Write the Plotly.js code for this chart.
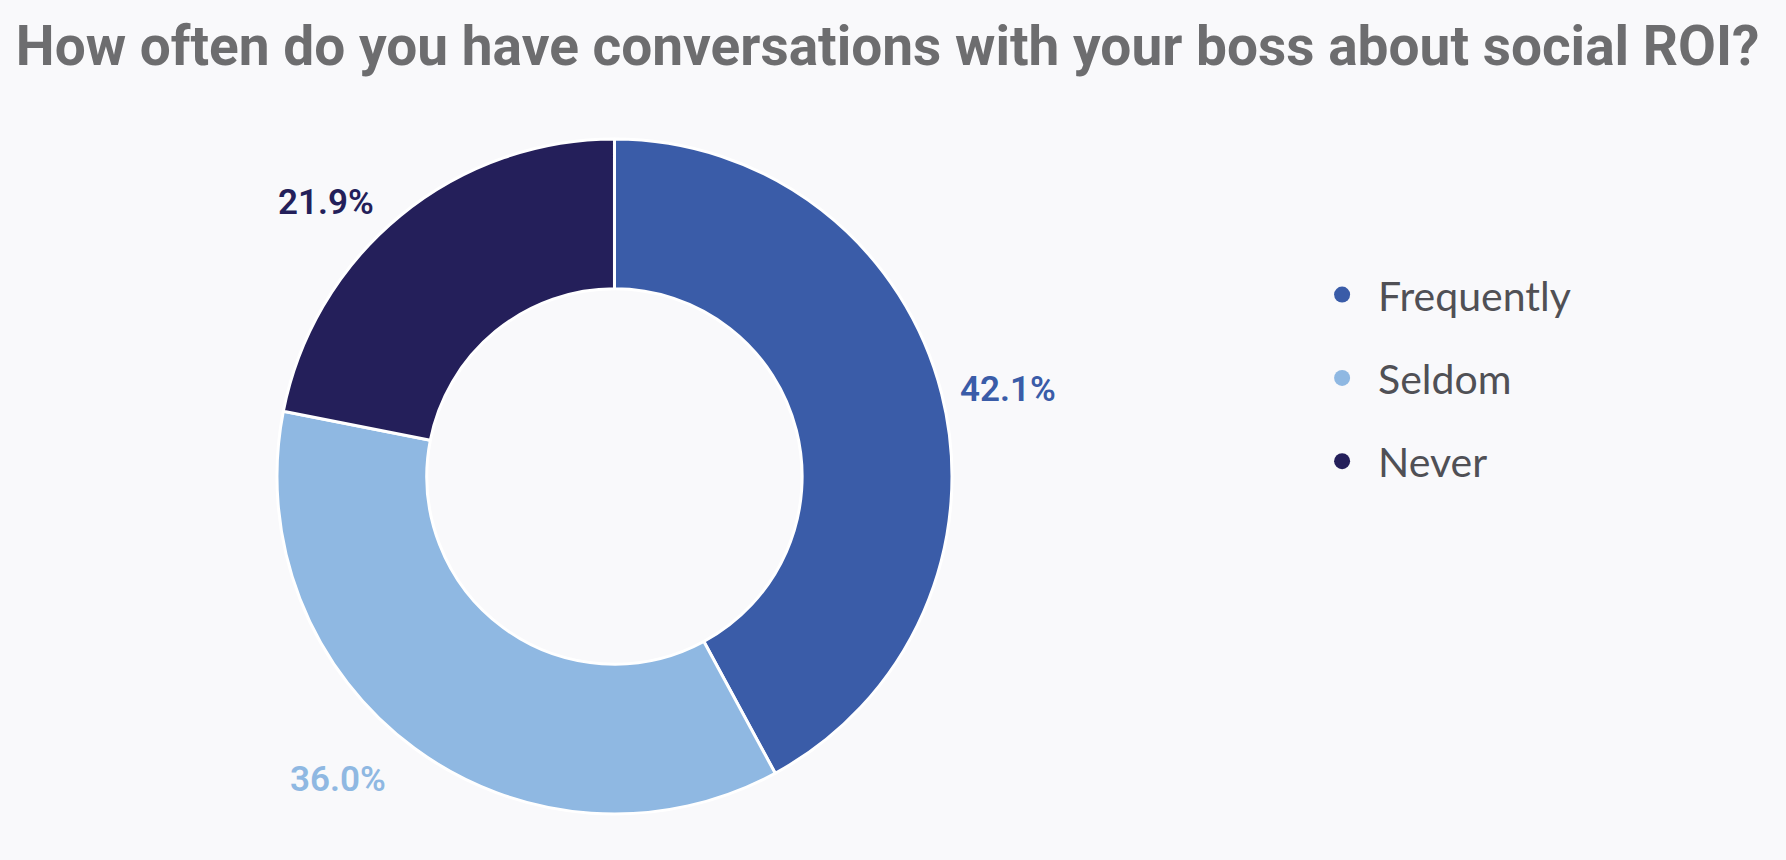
<!DOCTYPE html>
<html>
<head>
<meta charset="utf-8">
<script src="https://cdn.plot.ly/plotly-3.0.1.min.js"></script>
<style>
html,body{margin:0;padding:0;background:#f9f9fb;}
#chart{width:1786px;height:860px;}
</style>
</head>
<body>
<div id="chart"></div>
<script>
const categories = ["Frequently", "Seldom", "Never"];
const values = [42.1, 36.0, 21.9];
const pctLabels = ["42.1%", "36.0%", "21.9%"];
const colors = ["#3a5ca8", "#8fb8e2", "#241f5a"];
const titleText = "How often do you have conversations with your boss about social ROI?";

// label anchor positions (paper fractions) for the outside percentage labels
const labelPos = [[0.5644, 0.547], [0.1893, 0.094], [0.1825, 0.765]];

const traces = [{
  type: "pie",
  labels: categories,
  values: values,
  hole: 0.556,
  sort: false,
  direction: "clockwise",
  rotation: 0,
  textinfo: "none",
  hoverinfo: "label+percent",
  showlegend: false,
  marker: {colors: colors, line: {color: "#ffffff", width: 3}},
  domain: {x: [0.1548, 0.5333], y: [0.0535, 0.8384]}
}];
categories.forEach((c, i) => {
  traces.push({
    type: "scatter", mode: "markers", x: [null], y: [null], name: c,
    legendgroup: c, showlegend: true,
    marker: {color: colors[i], size: 18, symbol: "circle"}
  });
});

const annotations = pctLabels.map((t, i) => ({
  text: t, xref: "paper", yref: "paper",
  x: labelPos[i][0], y: labelPos[i][1], xanchor: "center", yanchor: "middle",
  showarrow: false,
  font: {family: "Roboto, Arial, sans-serif", size: 35, color: colors[i], weight: 600}
}));

const layout = {
  width: 1786, height: 860,
  margin: {l: 0, r: 0, t: 0, b: 0},
  paper_bgcolor: "#f9f9fb",
  plot_bgcolor: "rgba(0,0,0,0)",
  title: {
    text: titleText,
    x: 0.497, xanchor: "center", y: 0.947, yanchor: "middle",
    font: {family: "Roboto, Arial, sans-serif", size: 55, color: "#6d6d6f", weight: "bold"}
  },
  xaxis: {visible: false, domain: [0.7, 0.72]},
  yaxis: {visible: false, domain: [0.5, 0.52]},
  showlegend: true,
  legend: {
    x: 0.7313, xanchor: "left", y: 0.696, yanchor: "top",
    bgcolor: "rgba(0,0,0,0)",
    font: {family: "Lato, 'Open Sans', sans-serif", size: 41, color: "#505055"},
    tracegroupgap: 27, traceorder: "grouped",
    itemwidth: 62,
    itemclick: false, itemdoubleclick: false
  },
  annotations: annotations
};

Plotly.newPlot("chart", traces, layout, {displayModeBar: false, staticPlot: true});
</script>
</body>
</html>
